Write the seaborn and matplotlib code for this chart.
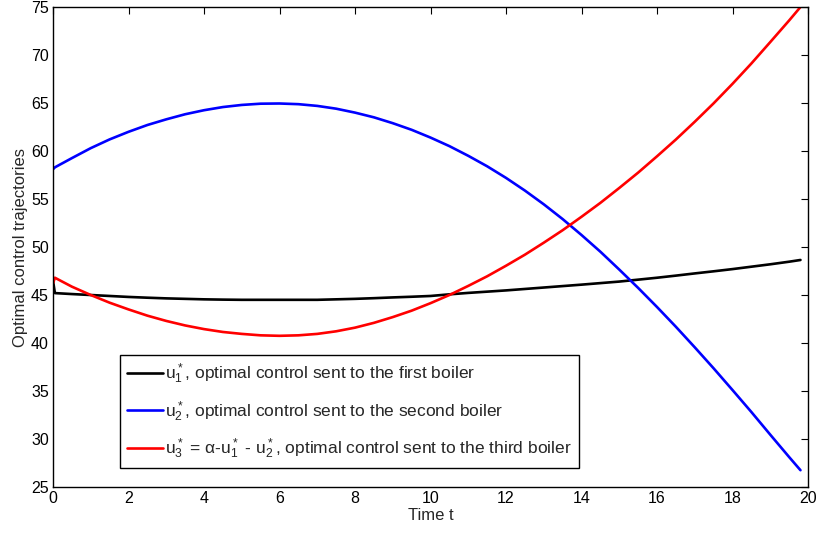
import matplotlib
matplotlib.use("Agg")
import matplotlib.pyplot as plt
import seaborn as sns
import pandas as pd

# Time grid and the three optimal control trajectories
t = [0, 0.05, 0.5, 1, 1.5, 2, 2.5, 3, 3.5, 4, 4.5, 5, 5.5, 6, 6.5, 7, 7.5, 8, 8.5,
     9, 9.5, 10, 10.5, 11, 11.5, 12, 12.5, 13, 13.5, 14, 14.5, 15, 15.5, 16, 16.5,
     17, 17.5, 18, 18.5, 19, 19.5, 19.8]
u1 = [46.5, 45.2, 45.1, 45.0, 44.9, 44.8, 44.72, 44.65, 44.6, 44.55, 44.52, 44.5,
      44.5, 44.5, 44.5, 44.5, 44.55, 44.6, 44.67, 44.75, 44.82, 44.9, 45.07, 45.22,
      45.35, 45.48, 45.63, 45.78, 45.93, 46.08, 46.24, 46.4, 46.6, 46.8, 47.02,
      47.25, 47.47, 47.7, 47.95, 48.2, 48.47, 48.65]
u2 = [58.1, 58.3, 59.26, 60.3, 61.21, 62.0, 62.71, 63.3, 63.83, 64.25, 64.58, 64.8,
      64.93, 64.95, 64.88, 64.7, 64.41, 64.0, 63.51, 62.9, 62.21, 61.4, 60.51, 59.5,
      58.41, 57.2, 55.88, 54.45, 52.91, 51.25, 49.51, 47.65, 45.74, 43.75, 41.69,
      39.55, 37.36, 35.1, 32.81, 30.45, 28.12, 26.75]
u3 = [46.2, 46.8, 45.87, 45.0, 44.2, 43.5, 42.85, 42.3, 41.83, 41.45, 41.15, 40.95,
      40.8, 40.75, 40.8, 40.95, 41.22, 41.6, 42.1, 42.7, 43.37, 44.15, 45.0, 45.95,
      46.95, 48.05, 49.2, 50.45, 51.75, 53.15, 54.6, 56.15, 57.75, 59.45, 61.2,
      63.05, 64.97, 67.0, 69.12, 71.35, 73.6, 75.0]

labels = [
    r"$u_1^*$, optimal control sent to the first boiler",
    r"$u_2^*$, optimal control sent to the second boiler",
    r"$u_3^*$ = α-$u_1^*$ - $u_2^*$, optimal control sent to the third boiler",
]
colors = ["#000000", "#0000ff", "#ff0000"]

xticks = list(range(0, 21, 2))
yticks = list(range(25, 76, 5))

sns.set_style("white")
plt.rcParams["font.family"] = ["Liberation Sans", "DejaVu Sans"]
plt.rcParams["mathtext.default"] = "regular"

df = pd.DataFrame({"t": t, "u1": u1, "u2": u2, "u3": u3})

fig = plt.figure(figsize=(8.18, 5.36), dpi=100)
ax = fig.add_axes([0.0648, 0.0914, 0.923, 0.8955])

for col, lab, c in zip(["u1", "u2", "u3"], labels, colors):
    sns.lineplot(data=df, x="t", y=col, ax=ax, color=c, linewidth=1.9,
                 label=lab, sort=False)

ax.set_xlim(0, 20)
ax.set_ylim(25, 75)
ax.set_xticks(xticks)
ax.set_yticks(yticks)
ax.tick_params(direction="in", top=True, right=True, length=5, width=0.8,
               labelsize=11.5, colors="black", pad=3)
for s in ax.spines.values():
    s.set_visible(True)
    s.set_color("black")
    s.set_linewidth(1.0)

ax.set_xlabel("Time t", fontsize=12, labelpad=1)
ax.set_ylabel("Optimal control trajectories", fontsize=12, labelpad=2)

leg = ax.legend(loc="lower left", bbox_to_anchor=(0.0887, 0.0396),
                borderaxespad=0, fontsize=12.5, handlelength=2.1,
                handletextpad=0.1, labelspacing=0.75, borderpad=0.4,
                fancybox=False, framealpha=1, edgecolor="black")
leg.get_frame().set_linewidth(1.0)

fig.savefig("out.png", dpi=100)
